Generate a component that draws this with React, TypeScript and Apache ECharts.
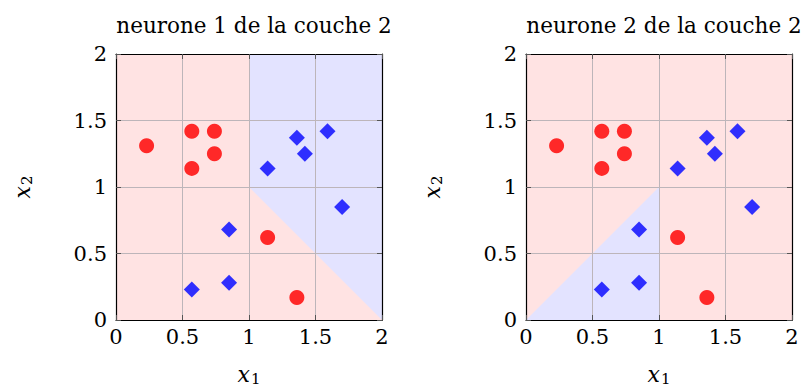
import React, { useEffect, useRef } from "react";
import * as echarts from "echarts";

const titles = ["neurone 1 de la couche 2", "neurone 2 de la couche 2"];

const redX = [0.23, 0.57, 0.74, 0.74, 0.57, 1.14, 1.36];
const redY = [1.31, 1.42, 1.42, 1.25, 1.14, 0.62, 0.17];
const blueX = [1.14, 1.36, 1.42, 1.59, 1.7, 0.85, 0.57, 0.85];
const blueY = [1.14, 1.37, 1.25, 1.42, 0.85, 0.68, 0.23, 0.28];

const fullSquare = [[0, 0], [2, 0], [2, 2], [0, 2]];
const blueRegion1 = [[1, 2], [2, 2], [2, 0], [1, 1]];
const blueRegion2 = [[0, 0], [1, 0], [1, 1]];

const FONT = "DejaVu Serif";
const RED_BG = "#ffe3e3";
const BLUE_BG = "#e3e3ff";

export default function App() {
  const ref = useRef<HTMLDivElement>(null);
  useEffect(() => {
    const chart = echarts.init(ref.current!, null, { renderer: "svg" });
    const lefts = [116, 526];
    const grids = lefts.map((l) => ({
      left: l,
      top: 54,
      width: 266,
      height: 266,
      containLabel: false,
      outerBoundsMode: "none",
    }));
    const xAxes: any[] = [];
    const yAxes: any[] = [];
    const series: any[] = [];
    const regions = [
      [fullSquare, blueRegion1],
      [fullSquare, blueRegion2],
    ];
    const rich = {
      a: { fontFamily: FONT, fontStyle: "italic", fontSize: 22, color: "#000", lineHeight: 24, verticalAlign: "middle" },
      b: { fontFamily: FONT, fontSize: 15, color: "#000", lineHeight: 24, verticalAlign: "bottom", padding: [0, 0, 0, 1] },
    };
    lefts.forEach((_, g) => {
      const common = {
        type: "value",
        min: 0,
        max: 2,
        interval: 0.5,
        gridIndex: g,
        axisLine: { show: true, onZero: false, lineStyle: { color: "#000", width: 1.2 } },
        axisTick: { show: true, inside: true, length: 5, lineStyle: { color: "#555" } },
      };
      xAxes.push({
        ...common,
        position: "bottom",
        axisLabel: { margin: 6, color: "#000", fontFamily: FONT, fontSize: 21 },
        splitLine: { show: true, lineStyle: { color: "#bdb5ba", width: 1 } },
        name: "{a|x}{b|1}",
        nameLocation: "middle",
        nameGap: 42,
        nameTextStyle: { rich },
      });
      xAxes.push({
        ...common,
        position: "top",
        axisLabel: { show: false },
        splitLine: { show: false },
      });
      yAxes.push({
        ...common,
        position: "left",
        axisLabel: { margin: 9, color: "#000", fontFamily: FONT, fontSize: 21 },
        splitLine: { show: true, lineStyle: { color: "#bdb5ba", width: 1 } },
        name: "{a|x}{b|2}",
        nameLocation: "middle",
        nameRotate: 90,
        nameGap: 82,
        nameTextStyle: { rich },
      });
      yAxes.push({
        ...common,
        position: "right",
        axisLabel: { show: false },
        splitLine: { show: false },
      });
      const polys = regions[g];
      series.push({
        type: "custom",
        xAxisIndex: g * 2,
        yAxisIndex: g * 2,
        z: -1,
        silent: true,
        data: polys.map((_, i) => [0, 0, i]),
        encode: { x: 0, y: 1 },
        renderItem: (params: any, api: any) => {
          const poly = polys[params.dataIndex];
          return {
            type: "polygon",
            shape: { points: poly.map((p) => api.coord(p)) },
            style: { fill: params.dataIndex === 0 ? RED_BG : BLUE_BG },
          };
        },
      });
      series.push({
        type: "scatter",
        xAxisIndex: g * 2,
        yAxisIndex: g * 2,
        symbol: "circle",
        symbolSize: 15,
        itemStyle: { color: "#ff1e1e", opacity: 0.95 },
        data: redX.map((x, i) => [x, redY[i]]),
        z: 3,
      });
      series.push({
        type: "scatter",
        xAxisIndex: g * 2,
        yAxisIndex: g * 2,
        symbol: "diamond",
        symbolSize: 16,
        itemStyle: { color: "#1e1eff", opacity: 0.92 },
        data: blueX.map((x, i) => [x, blueY[i]]),
        z: 3,
      });
    });
    chart.setOption({
      animation: false,
      title: titles.map((t, i) => ({
        text: t,
        left: lefts[i] + 133,
        top: 9,
        textAlign: "center",
        textStyle: { fontFamily: FONT, fontWeight: "normal", fontSize: 21.5, color: "#000" },
      })),
      grid: grids,
      xAxis: xAxes,
      yAxis: yAxes,
      series,
    });
    return () => chart.dispose();
  }, []);
  return (
    <div
      ref={ref}
      style={{ position: "absolute", left: 0, top: 0, width: 805, height: 389, background: "#fff" }}
    />
  );
}
